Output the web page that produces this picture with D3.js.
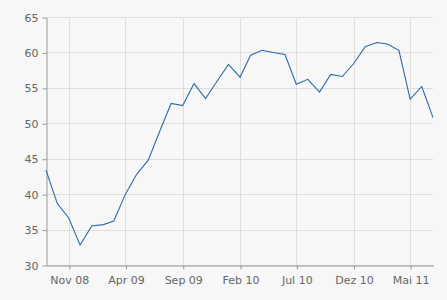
<!DOCTYPE html>
<html>
<head>
<meta charset="utf-8">
<script src="https://cdn.jsdelivr.net/npm/d3@7"></script>
<style>
  body { margin: 0; background: #f7f7f7; }
  svg { display: block; }
  .axis text { font-family: "DejaVu Sans", Verdana, sans-serif; font-size: 11px; fill: #666; }
</style>
</head>
<body>
<div id="chart"></div>
<script>
// monthly values, Sep 2008 .. Jul 2011
var startMonth = [2008, 8];
var values = [43.4, 38.7, 36.6, 32.8,
  35.5, 35.7, 36.2, 40.0, 42.8, 44.8, 48.8, 52.8, 52.5, 55.6, 53.5, 55.9,
  58.3, 56.5, 59.6, 60.3, 60.0, 59.7, 55.5, 56.2, 54.4, 56.9, 56.6, 58.4,
  60.8, 61.4, 61.2, 60.3, 53.4, 55.2, 50.8];
var yTicks = [30, 35, 40, 45, 50, 55, 60, 65];
var xTickDates = [[2008, 10], [2009, 3], [2009, 8], [2010, 1], [2010, 6], [2010, 11], [2011, 4]];
var xTickLabels = ["Nov 08", "Apr 09", "Sep 09", "Feb 10", "Jul 10", "Dez 10", "Mai 11"];

var width = 447, height = 300;
var margin = {top: 17, right: 14, bottom: 35, left: 46};

var data = values.map(function(v, i) {
    return {date: new Date(startMonth[0], startMonth[1] + i, 1), value: v};
});

var svg = d3.select("#chart").append("svg")
    .attr("width", width)
    .attr("height", height);

var x = d3.scaleTime()
    .domain(d3.extent(data, d => d.date))
    .range([margin.left, width - margin.right]);

var y = d3.scaleLinear()
    .domain([30, 65])
    .range([height - margin.bottom, margin.top]);

var tickDates = xTickDates.map(d => new Date(d[0], d[1], 1));

// grid
svg.append("g")
    .selectAll("line.h")
    .data(yTicks)
    .enter().append("line")
    .attr("x1", margin.left)
    .attr("x2", width - margin.right)
    .attr("y1", d => Math.round(y(d)) + 0.5)
    .attr("y2", d => Math.round(y(d)) + 0.5)
    .style("stroke", "#dedede");

svg.append("g")
    .selectAll("line.v")
    .data(tickDates)
    .enter().append("line")
    .attr("x1", d => Math.round(x(d)) + 0.5)
    .attr("x2", d => Math.round(x(d)) + 0.5)
    .attr("y1", margin.top)
    .attr("y2", height - margin.bottom)
    .style("stroke", "#dedede");

// axes
var yAxis = svg.append("g")
    .attr("class", "axis")
    .attr("transform", "translate(" + (margin.left + 0.5) + ",0.5)")
    .call(d3.axisLeft(y).tickValues(yTicks).tickSize(4).tickPadding(4).tickSizeOuter(0));

var xAxis = svg.append("g")
    .attr("class", "axis")
    .attr("transform", "translate(0.5," + (height - margin.bottom + 0.5) + ")")
    .call(d3.axisBottom(x).tickValues(tickDates).tickSize(4).tickPadding(7).tickSizeOuter(0)
        .tickFormat((d, i) => xTickLabels[i]));

svg.selectAll(".axis path, .axis line").style("stroke", "#999");

// line
var line = d3.line()
    .x(d => x(d.date))
    .y(d => y(d.value));

svg.append("path")
    .datum(data)
    .attr("d", line)
    .style("fill", "none")
    .style("stroke", "#2e6aa8")
    .style("stroke-width", 1.1);
</script>
</body>
</html>
